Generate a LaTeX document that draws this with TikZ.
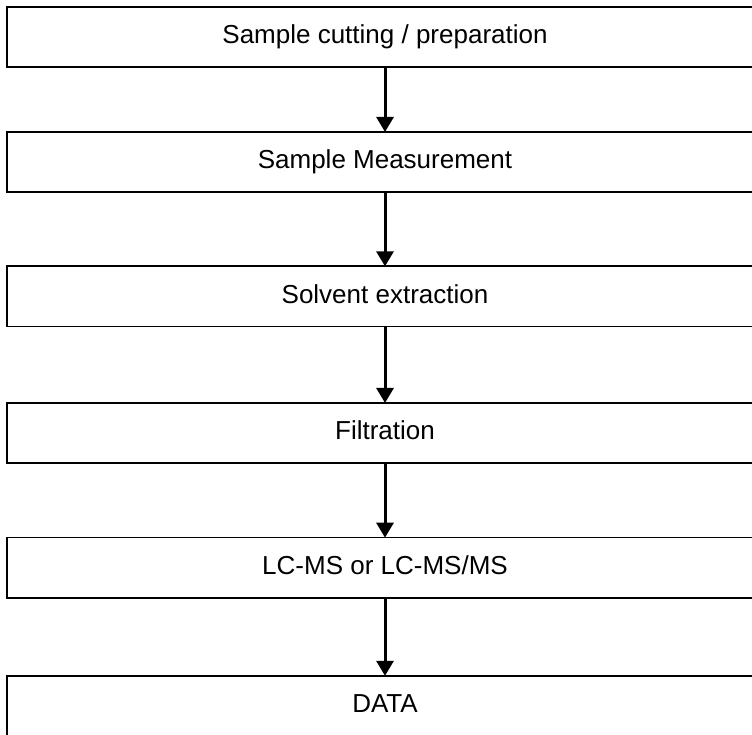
\documentclass[tikz,border=0pt]{standalone}
\usepackage{fontspec}
\setmainfont{Liberation Sans}
\usetikzlibrary{arrows.meta}
\begin{document}
\begin{tikzpicture}[x=1pt,y=-1pt,
  stepbox/.style={draw=black, line width=1.8pt, fill=white, inner sep=0pt,
    minimum width=755.4pt, minimum height=60.3pt,
    text height=19pt, text depth=5.5pt,
    font=\fontsize{26}{31}\selectfont},
  flowarrow/.style={line width=3pt, -{Triangle[width=17pt,length=15pt]}, shorten >=-1pt}]
  \useasboundingbox (0,0) rectangle (752,734);
  \clip (0,0) rectangle (752,734);
  \node[stepbox] (b1) at (385,36.85) {Sample cutting / preparation};
  \node[stepbox] (b2) at (385,162) {Sample Measurement};
  \node[stepbox] (b3) at (385,296.35) {Solvent extraction};
  \node[stepbox] (b4) at (385,433) {Filtration};
  \node[stepbox] (b5) at (385,567.7) {LC-MS or LC-MS/MS};
  \node[stepbox] (b6) at (385,705.85) {DATA};
  \draw[flowarrow] (b1.south) -- (b2.north);
  \draw[flowarrow] (b2.south) -- (b3.north);
  \draw[flowarrow] (b3.south) -- (b4.north);
  \draw[flowarrow] (b4.south) -- (b5.north);
  \draw[flowarrow] (b5.south) -- (b6.north);
\end{tikzpicture}
\end{document}
